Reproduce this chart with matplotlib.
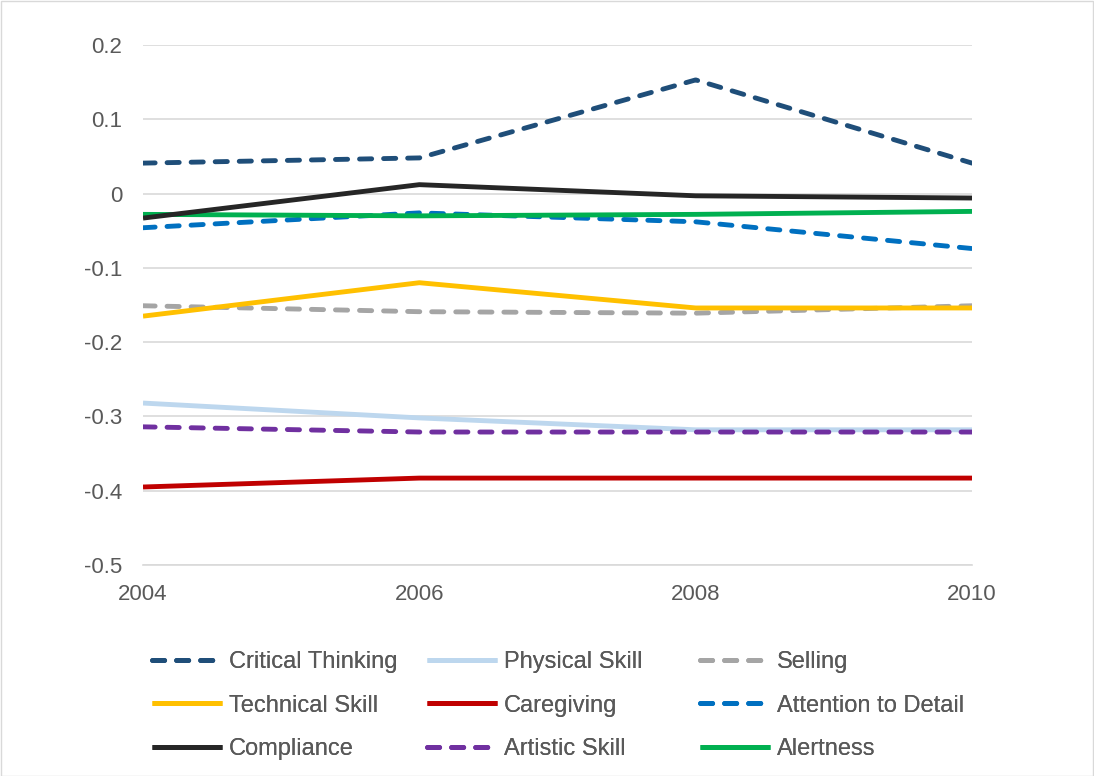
import matplotlib
matplotlib.use("Agg")
import matplotlib.pyplot as plt
from matplotlib.patches import Rectangle

years = [2004, 2006, 2008, 2010]
critical_thinking = [0.041, 0.048, 0.153, 0.041]
physical_skill = [-0.282, -0.302, -0.318, -0.318]
selling = [-0.151, -0.159, -0.161, -0.151]
technical_skill = [-0.165, -0.120, -0.154, -0.154]
caregiving = [-0.395, -0.383, -0.383, -0.383]
attention_to_detail = [-0.046, -0.026, -0.038, -0.074]
compliance = [-0.033, 0.012, -0.003, -0.006]
artistic_skill = [-0.314, -0.321, -0.321, -0.321]
alertness = [-0.028, -0.030, -0.028, -0.024]

series = [
    ("Critical Thinking", critical_thinking, "#1F4E79", True),
    ("Physical Skill", physical_skill, "#BDD7EE", False),
    ("Selling", selling, "#A5A5A5", True),
    ("Technical Skill", technical_skill, "#FFC000", False),
    ("Caregiving", caregiving, "#C00000", False),
    ("Attention to Detail", attention_to_detail, "#0070C0", True),
    ("Compliance", compliance, "#262626", False),
    ("Artistic Skill", artistic_skill, "#7030A0", True),
    ("Alertness", alertness, "#00B050", False),
]

plt.rcParams['font.family'] = ['Liberation Sans', 'DejaVu Sans']

W, H = 1094, 776
fig = plt.figure(figsize=(W / 100, H / 100), dpi=100)
ax = fig.add_axes([143 / W, 1 - 565 / H, (972 - 143) / W, (565 - 45) / H])

LW = 3.5
order = [1, 7, 4, 2, 3, 5, 8, 6, 0]
handles = {}
for i in order:
    name, vals, col, dashed = series[i]
    if dashed:
        ln, = ax.plot(years, vals, color=col, lw=LW, linestyle=(0, (2.5, 2.45)),
                      dash_capstyle='round', solid_capstyle='round', label=name)
    else:
        ln, = ax.plot(years, vals, color=col, lw=LW, solid_capstyle='butt', label=name)
    handles[name] = ln

ax.set_xlim(2004, 2010)
ax.set_ylim(-0.5, 0.2)
ax.set_xticks([2004, 2006, 2008, 2010])
ax.set_yticks([0.2, 0.1, 0, -0.1, -0.2, -0.3, -0.4, -0.5])
ax.set_yticklabels(["0.2", "0.1", "0", "-0.1", "-0.2", "-0.3", "-0.4", "-0.5"])
ax.yaxis.grid(True, color="#D9D9D9", lw=1.2)
ax.set_axisbelow(True)
for s in ["top", "right", "left"]:
    ax.spines[s].set_visible(False)
ax.spines["bottom"].set_color("#D9D9D9")
ax.spines["bottom"].set_linewidth(1.2)
ax.tick_params(axis="both", length=0, labelsize=16, colors="#595959")
ax.tick_params(axis="y", pad=15)
ax.tick_params(axis="x", pad=14)

names = [s[0] for s in series]
col_x = [152, 427, 700]
for c in range(3):
    col_names = [names[r * 3 + c] for r in range(3)]
    leg = fig.legend([handles[n] for n in col_names], col_names, ncol=1,
                     loc="upper left", bbox_to_anchor=(col_x[c] / W, 1 - 651 / H),
                     frameon=False, fontsize=17, handlelength=2.95,
                     handletextpad=0.3, labelspacing=0.92, borderpad=0,
                     borderaxespad=0, labelcolor="#595959")
    fig.add_artist(leg)

fig.patches.append(Rectangle((0.5 / W, 0.5 / H), 1 - 1.5 / W, 1 - 1.5 / H,
                             transform=fig.transFigure, fill=False,
                             edgecolor="#D9D9D9", lw=1))

fig.savefig("out.png", dpi=100)
